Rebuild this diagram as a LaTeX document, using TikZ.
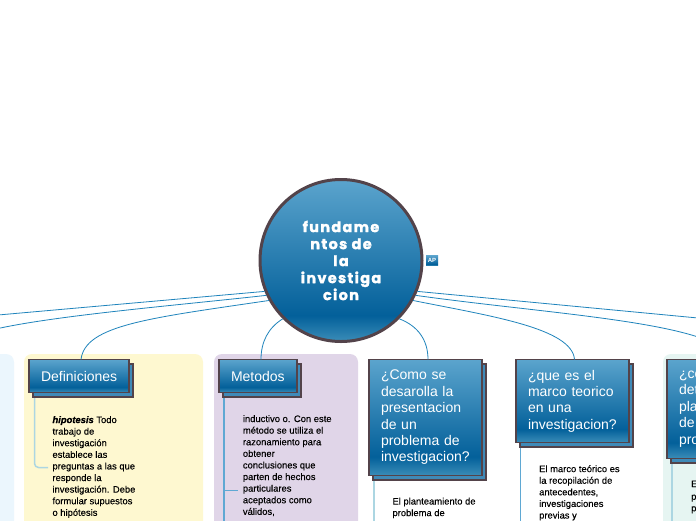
\documentclass[tikz,border=0pt]{standalone}
\usepackage{fontspec}
\setmainfont{Liberation Sans}
\newfontfamily\ballfont[LetterSpace=9,FakeBold=1.6]{Poppins}
\newfontfamily\notefont[FakeBold=0.2]{Liberation Sans}
\newfontfamily\hipfont[ItalicFont={Liberation Sans Bold Italic},ItalicFeatures={FakeBold=1}]{Liberation Sans}
\usetikzlibrary{shadows}

\definecolor{edgegrey}{HTML}{53434A}
\definecolor{linkblue}{HTML}{1F84BC}
\definecolor{backblue}{HTML}{3F8AB8}
\definecolor{stemblue}{HTML}{5FA8D3}
\definecolor{stemlight}{HTML}{ACD6E2}
\definecolor{topblue}{HTML}{5BA4CD}
\definecolor{darkblue}{HTML}{03609A}
\definecolor{footblue}{HTML}{3B8DB8}
\definecolor{panelsky}{HTML}{EBF6FD}
\definecolor{panelyellow}{HTML}{FEF8D0}
\definecolor{panelviolet}{HTML}{E0D5E8}
\definecolor{panelteal}{HTML}{E6F5F2}
\pgfdeclareverticalshading{topicblue}{100bp}{
  color(0bp)=(footblue); color(25bp)=(footblue);
  color(33bp)=(darkblue);
  color(75bp)=(topblue); color(100bp)=(topblue)}

\begin{document}
\begin{tikzpicture}[
    x=1pt, y=-1pt,
    topic/.style  = {rectangle, draw=edgegrey, line width=1.5pt, shading=topicblue, text=white,
                     align=left, inner xsep=12pt, inner ysep=0pt, outer sep=0pt,
                     font=\fontsize{14}{16.4}\selectfont,
                     copy shadow={shadow xshift=4pt, shadow yshift=-4.5pt, fill=backblue,
                                  draw=edgegrey, line width=1.5pt}},
    note/.style   = {anchor=north west, inner sep=0pt, align=left,
                     font=\notefont\fontsize{9.4}{11.6}\selectfont},
    link/.style   = {draw=linkblue, line width=0.8pt},
    stem/.style   = {draw=stemblue, line width=1.5pt},
    stemlt/.style = {draw=stemlight, line width=1.5pt}
    ]
      \useasboundingbox (0,0) rectangle (696,520);

      % panels ---------------------------------------------------
      \fill[fill=white] (0,0) rectangle (696,520);
      \fill[rounded corners=8pt, fill=panelsky] (-30,354) rectangle (14,560);
      \fill[rounded corners=8pt, fill=panelyellow] (24,354) rectangle (203,560);
      \fill[rounded corners=8pt, fill=panelviolet] (214,354) rectangle (358,560);
      \fill[rounded corners=8pt, fill=panelteal] (663,354) rectangle (780,560);

      % stems ----------------------------------------------------
      \coordinate (defstem)  at (34.5,395);
      \coordinate (defknee)  at (48,467.5);
      \coordinate (metstem)  at (224,395);
      \coordinate (metknee)  at (238,490);
      \coordinate (metend)   at (224,525);
      \coordinate (probstem) at (374,475);
      \coordinate (probend)  at (374,525);
      \coordinate (marcstem) at (520.5,445);
      \coordinate (marcend)  at (520.5,525);
      \coordinate (planstem) at (672,462);
      \coordinate (planend)  at (672,525);
      \draw[stemlt, rounded corners=4pt] (defstem) |- (defknee);
      \draw[stem] (metstem) -- (metend);
      \draw[draw=stemblue, line width=0.8pt] (metstem |- metknee) -- (metknee);
      \draw[stemlt] (probstem) -- (probend);
      \draw[stem] (marcstem) -- (marcend);
      \draw[stemlt] (planstem) -- (planend);

      % topics ---------------------------------------------------
      \node[circle, draw=edgegrey, line width=3pt, shading=topicblue, minimum size=162pt,
            inner sep=0pt, text=white, align=center,
            font=\ballfont\bfseries\fontsize{14.5}{17}\selectfont] (ball) at (341,260.5)
            {fundame\\ntos de\\la\\investiga\\cion};
      \node[rectangle, shading=topicblue, text=white, inner sep=0pt, minimum width=12pt,
            minimum height=10.5pt, font=\bfseries\fontsize{6}{6}\selectfont] (apicon) at (432,260.5) {AP};

      \node[topic, text width=76pt, minimum height=33pt]  (defbox)  at (79,376)     {Definiciones};
      \node[topic, text width=54pt, minimum height=33pt]  (metbox)  at (258,376)    {Metodos};
      \node[topic, text width=89pt, minimum height=116pt] (probbox) at (425.5,417.5)
            {¿Como se\\desarolla la\\presentacion\\de un\\problema de\\investigacion?};
      \node[topic, text width=89pt, minimum height=83pt]  (marcbox) at (572.5,401)
            {¿que es el\\marco teorico\\en una\\investigacion?};
      \node[topic, text width=90pt, minimum height=99pt]  (planbox) at (724,409)
            {¿co\\det\\pla\\de\\pro};

      % links ----------------------------------------------------
      \coordinate (lefta)  at (-2,315);
      \coordinate (leftb)  at (-2,328.5);
      \coordinate (righta) at (698,318);
      \coordinate (rightb) at (698,337);
      \draw[link] (ball.202.5) -- (lefta);
      \draw[link] (ball.205) .. controls (180,305) and (60,315) .. (leftb);
      \draw[link] (ball.209) .. controls (150,318) and (85,325) .. ([xshift=2pt]defbox.north);
      \draw[link] (ball.225.7) .. controls (268,328) and (261,342) .. ([xshift=3pt]metbox.north);
      \draw[link] (ball.-45) .. controls (418,326) and (428,340) .. ([xshift=2.5pt]probbox.north);
      \draw[link] (ball.-29) .. controls (490,316) and (572,328) .. ([xshift=2pt]marcbox.north);
      \draw[link] (ball.-25) .. controls (520,310) and (640,318) .. (rightb);
      \draw[link] (ball.-22.5) -- (righta);

      % notes ----------------------------------------------------
      \node[note] (hiptext) at (52.3,416)
            {{\hipfont\itshape hipotesis} Todo\\trabajo de\\investigación\\establece las\\preguntas a las que\\responde la\\investigación. Debe\\formular supuestos\\o hipótesis};
      \node[note] (mettext) at (242.7,415)
            {inductivo o. Con este\\método se utiliza el\\razonamiento para\\obtener\\conclusiones que\\parten de hechos\\particulares\\aceptados como\\válidos,};
      \node[note] (probtext) at (392.3,497.5) {El planteamiento de\\problema de};
      \node[note] (marctext) at (539,465) {El marco teórico es\\la recopilación de\\antecedentes,\\investigaciones\\previas y};
      \node[note] (plantexta) at (691,480.5) {E};
      \node[note] (plantextb) at (691,494.5) {p\\p};
    \end{tikzpicture}
\end{document}
